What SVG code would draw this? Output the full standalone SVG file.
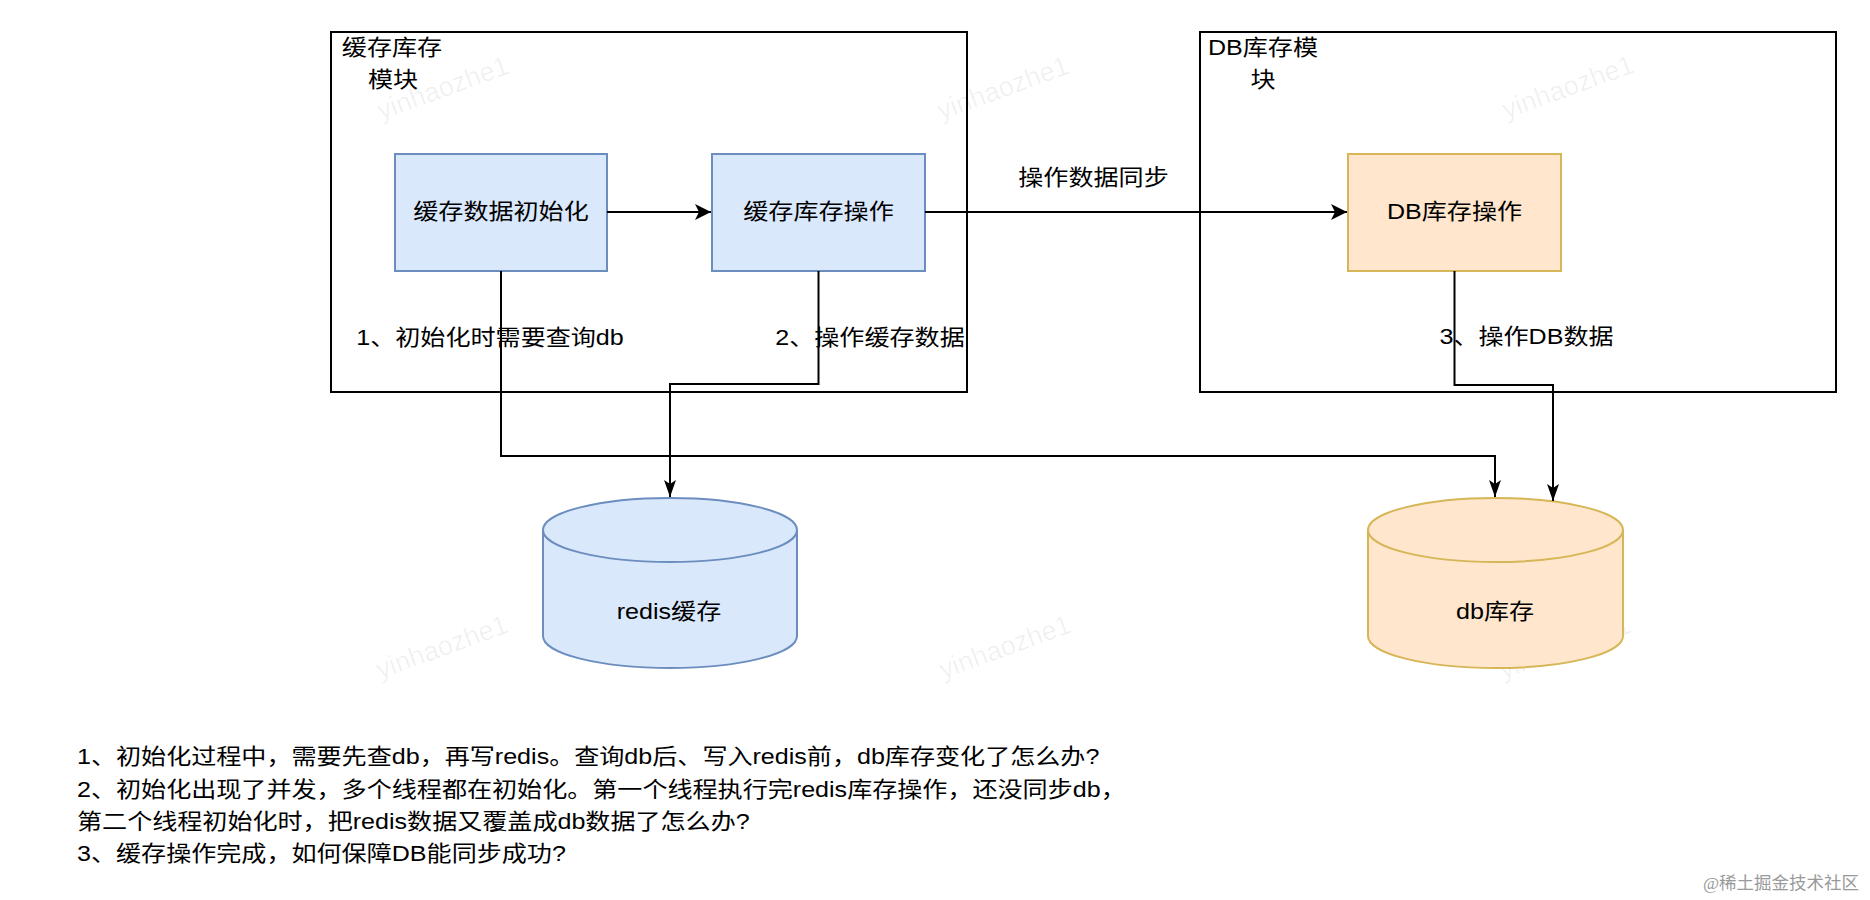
<svg xmlns="http://www.w3.org/2000/svg" width="1870" height="900" viewBox="0 0 1870 900">
<style>
.t{font-family:"Liberation Sans","Noto Sans CJK SC",sans-serif;font-size:22px;fill:#000}
.wm{font-family:"Liberation Sans","Noto Sans CJK SC",sans-serif;font-size:27px;fill:#000;fill-opacity:0.06;text-anchor:middle;dominant-baseline:central}
.frame{fill:none;stroke:#000;stroke-width:2}
.blue{fill:#dae8fc;stroke:#6c8ebf;stroke-width:2}
.orange{fill:#ffe6cc;stroke:#d6b656;stroke-width:2}
.edge{fill:none;stroke:#000;stroke-width:2}
</style>
<defs>
<marker id="arrowBig" markerUnits="userSpaceOnUse" markerWidth="18" markerHeight="18" refX="16" refY="9" orient="auto">
<path d="M0,1 L16,9 L0,17 L4,9 Z" fill="#000"/>
</marker>
<marker id="arrowSlim" markerUnits="userSpaceOnUse" markerWidth="18" markerHeight="14" refX="17" refY="7" orient="auto">
<path d="M0,1 L17,7 L0,13 L4,7 Z" fill="#000"/>
</marker>
</defs>
<rect width="1870" height="900" fill="#fff"/>

<g id="watermarks">
<text class="wm" transform="translate(443,88) rotate(-20)">yinhaozhe1</text>
<text class="wm" transform="translate(1003,88) rotate(-20)">yinhaozhe1</text>
<text class="wm" transform="translate(1568,87) rotate(-20)">yinhaozhe1</text>
<text class="wm" transform="translate(442,647) rotate(-20)">yinhaozhe1</text>
<text class="wm" transform="translate(1005,647) rotate(-20)">yinhaozhe1</text>
<text class="wm" transform="translate(1565,647) rotate(-20)">yinhaozhe1</text>
</g>

<g id="frame-cache">
<rect class="frame" x="331" y="32" width="636" height="360"/>
<text class="t" text-anchor="middle" dominant-baseline="central" transform="translate(392,48) scale(1.14,1)">缓存库存</text>
<text class="t" text-anchor="middle" dominant-baseline="central" transform="translate(393,80) scale(1.14,1)">模块</text>
</g>

<g id="frame-db">
<rect class="frame" x="1200" y="32" width="636" height="360"/>
<text class="t" text-anchor="middle" dominant-baseline="central" transform="translate(1263,48) scale(1.14,1)">DB库存模</text>
<text class="t" text-anchor="middle" dominant-baseline="central" transform="translate(1263,80) scale(1.14,1)">块</text>
</g>

<g id="node-init">
<rect class="blue" x="395" y="154" width="212" height="117"/>
<text class="t" text-anchor="middle" dominant-baseline="central" transform="translate(501,212) scale(1.14,1)">缓存数据初始化</text>
</g>

<g id="node-cache-op">
<rect class="blue" x="712" y="154" width="213" height="117"/>
<text class="t" text-anchor="middle" dominant-baseline="central" transform="translate(818.5,212) scale(1.14,1)">缓存库存操作</text>
</g>

<g id="node-db-op">
<rect class="orange" x="1348" y="154" width="213" height="117"/>
<text class="t" text-anchor="middle" dominant-baseline="central" transform="translate(1454.5,212) scale(1.14,1)">DB库存操作</text>
</g>

<g id="redis">
<path class="blue" d="M543,530 A127,32 0 0 1 797,530 L797,636 A127,32 0 0 1 543,636 Z"/>
<path class="blue" style="fill:none" d="M543,530 A127,32 0 0 0 797,530"/>
<text class="t" text-anchor="middle" dominant-baseline="central" transform="translate(669,612) scale(1.14,1)">redis缓存</text>
</g>

<g id="db">
<path class="orange" d="M1368,530 A127.5,32 0 0 1 1623,530 L1623,636 A127.5,32 0 0 1 1368,636 Z"/>
<path class="orange" style="fill:none" d="M1368,530 A127.5,32 0 0 0 1623,530"/>
<text class="t" text-anchor="middle" dominant-baseline="central" transform="translate(1495,612) scale(1.14,1)">db库存</text>
</g>

<g id="connectors">
<path class="edge" d="M607,212 L711,212" marker-end="url(#arrowBig)"/>
<path class="edge" d="M925,212 L1347,212" marker-end="url(#arrowBig)"/>
<path class="edge" d="M501,271 L501,456 L1495,456 L1495,497" marker-end="url(#arrowSlim)"/>
<path class="edge" d="M818.5,271 L818.5,384 L670,384 L670,497" marker-end="url(#arrowSlim)"/>
<path class="edge" d="M1454.5,271 L1454.5,385 L1553,385 L1553,501" marker-end="url(#arrowSlim)"/>
</g>

<g id="edge-labels">
<text class="t" text-anchor="middle" dominant-baseline="central" transform="translate(1093.5,178) scale(1.14,1)">操作数据同步</text>
<text class="t" text-anchor="middle" dominant-baseline="central" transform="translate(490,338) scale(1.14,1)">1、初始化时需要查询db</text>
<text class="t" text-anchor="middle" dominant-baseline="central" transform="translate(870,338) scale(1.14,1)">2、操作缓存数据</text>
<text class="t" text-anchor="middle" dominant-baseline="central" transform="translate(1526.5,337) scale(1.14,1)">3、操作DB数据</text>
</g>

<g id="notes">
<text class="t" dominant-baseline="central" transform="translate(77,0) scale(1.14,1)">
<tspan x="0" y="757">1、初始化过程中，需要先查db，再写redis。查询db后、写入redis前，db库存变化了怎么办?</tspan>
<tspan x="0" y="790">2、初始化出现了并发，多个线程都在初始化。第一个线程执行完redis库存操作，还没同步db，</tspan>
<tspan x="0" y="822">第二个线程初始化时，把redis数据又覆盖成db数据了怎么办?</tspan>
<tspan x="0" y="854">3、缓存操作完成，如何保障DB能同步成功?</tspan>
</text>
</g>

<text font-family="'Liberation Serif','Noto Sans CJK SC',serif" font-size="17.5" fill="#9a9a9a" x="1703" y="883" dominant-baseline="central">@稀土掘金技术社区</text>
</svg>
